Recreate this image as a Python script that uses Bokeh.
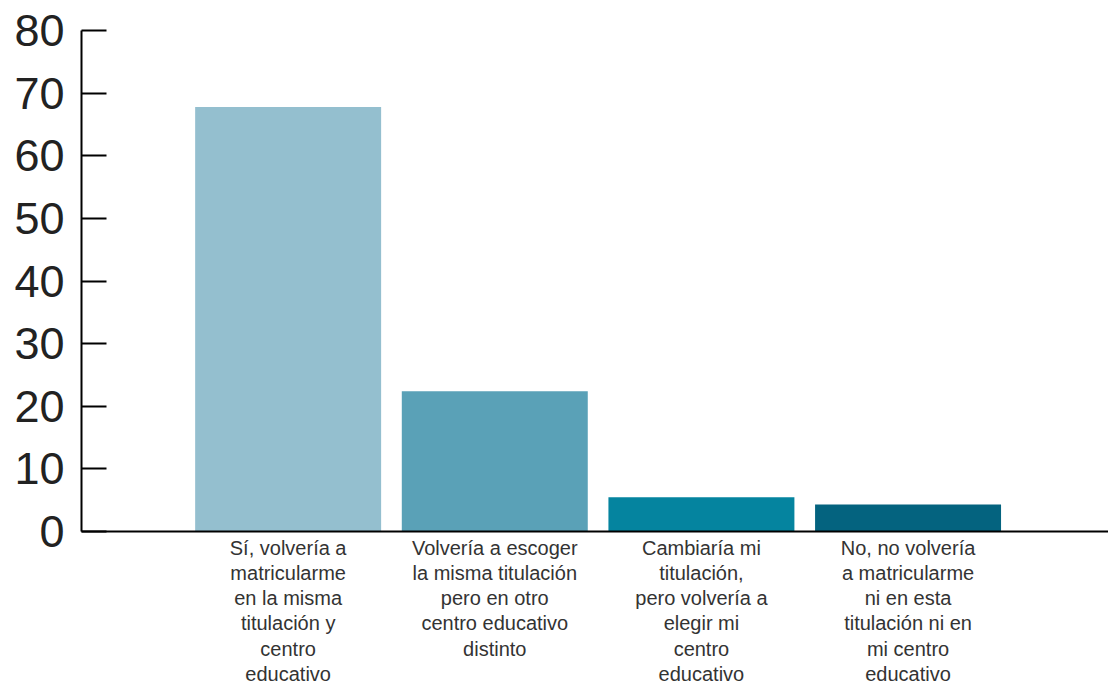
from bokeh.plotting import figure
from bokeh.models import Range1d, FixedTicker, ColumnDataSource
from bokeh.embed import file_html
from bokeh.resources import INLINE

# ---- data ----
categories = [
    ["Sí, volvería a", "matricularme", "en la misma", "titulación y", "centro", "educativo"],
    ["Volvería a escoger", "la misma titulación", "pero en otro", "centro educativo", "distinto"],
    ["Cambiaría mi", "titulación,", "pero volvería a", "elegir mi", "centro", "educativo"],
    ["No, no volvería", "a matricularme", "ni en esta", "titulación ni en", "mi centro", "educativo"],
]
values = [67.8, 22.4, 5.45, 4.3]
colors = ["#94BFCF", "#5AA1B7", "#05849F", "#04637F"]
y_ticks = [0, 10, 20, 30, 40, 50, 60, 70, 80]

positions = [i + 1 for i in range(len(values))]

p = figure(
    width=1108, height=688,
    x_range=Range1d(0, 4.97), y_range=Range1d(0, 80),
    output_backend="svg", toolbar_location=None,
    min_border_left=81, min_border_top=30, min_border_bottom=157, min_border_right=0,
)
p.outline_line_color = None
p.grid.visible = False
p.background_fill_color = "white"
p.border_fill_color = "white"

src = ColumnDataSource(dict(x=positions, top=values, color=colors))
p.vbar(x="x", top="top", bottom=0, width=0.9, fill_color="color", line_color=None, source=src)

# y axis
ya = p.yaxis[0]
ya.ticker = FixedTicker(ticks=y_ticks)
ya.axis_line_color = "black"
ya.axis_line_width = 2
ya.major_tick_in = 25
ya.major_tick_out = 0
ya.major_tick_line_width = 2
ya.major_tick_line_color = "black"
ya.minor_tick_line_color = None
ya.major_label_text_font = "Liberation Sans"
ya.major_label_text_font_size = "45px"
ya.major_label_text_color = "#222222"
ya.major_label_standoff = 17

# x axis: line + multi-line category labels
xa = p.xaxis[0]
xa.ticker = FixedTicker(ticks=positions)
xa.major_label_overrides = {pos: "\n".join(lines) for pos, lines in zip(positions, categories)}
xa.axis_line_color = "black"
xa.axis_line_width = 2
xa.major_tick_line_color = None
xa.major_tick_in = 0
xa.major_tick_out = 0
xa.minor_tick_line_color = None
xa.major_label_text_font = "Liberation Sans"
xa.major_label_text_font_size = "20px"
xa.major_label_text_color = "#333333"
xa.major_label_text_line_height = 1.15
xa.major_label_standoff = 5

open("out.html", "w").write(file_html(p, INLINE))
